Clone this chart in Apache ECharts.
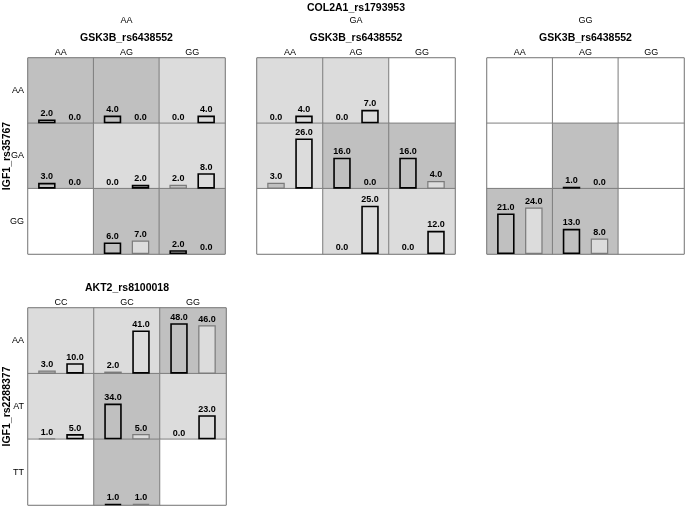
<!DOCTYPE html>
<html>
<head>
<meta charset="utf-8">
<script src="https://cdn.jsdelivr.net/npm/echarts@6/dist/echarts.min.js"></script>
<style>html,body{margin:0;padding:0;background:#fff}#c{width:685px;height:506px}</style>
</head>
<body>
<div id="c"></div>
<script>
// ---- genotype categories ----
const col2a1Genotypes = ['AA', 'GA', 'GG'];
const gsk3bGenotypes = ['AA', 'AG', 'GG'];
const igf1Rs35767Genotypes = ['AA', 'GA', 'GG'];
const akt2Genotypes = ['CC', 'GC', 'GG'];
const igf1Rs2288377Genotypes = ['AA', 'AT', 'TT'];

// ---- counts, row-major (row = IGF1 genotype, col = GSK3B / AKT2 genotype); null = empty cell ----
const casesCol2a1AA    = [2, 4, 0,   3, 0, 2,   null, 6, 2];
const controlsCol2a1AA = [0, 0, 4,   0, 2, 8,   null, 7, 0];
const riskCol2a1AA     = ['H','H','L', 'H','L','L', '','H','H'];

const casesCol2a1GA    = [0, 0, null,  3, 16, 16,  null, 0, 0];
const controlsCol2a1GA = [4, 7, null,  26, 0, 4,   null, 25, 12];
const riskCol2a1GA     = ['L','L','', 'L','H','H', '','L','L'];

const casesCol2a1GG    = [null, null, null,  null, 1, null,  21, 13, null];
const controlsCol2a1GG = [null, null, null,  null, 0, null,  24, 8, null];
const riskCol2a1GG     = ['','','', '','H','', 'H','H',''];

const casesAkt2    = [3, 2, 48,   1, 34, 0,   null, 1, null];
const controlsAkt2 = [10, 41, 46, 5, 5, 23,   null, 1, null];
const riskAkt2     = ['L','L','H', 'L','H','L', '','H',''];

// ---- panel definitions built from the arrays ----
const panelDefs = [
  {cases: casesCol2a1AA, controls: controlsCol2a1AA, risk: riskCol2a1AA, cols: gsk3bGenotypes, rows: igf1Rs35767Genotypes,
   xName: 'GSK3B_rs6438552', yName: 'IGF1_rs35767', rowLabels: true, group: 0, sub: col2a1Genotypes[0]},
  {cases: casesCol2a1GA, controls: controlsCol2a1GA, risk: riskCol2a1GA, cols: gsk3bGenotypes, rows: igf1Rs35767Genotypes,
   xName: 'GSK3B_rs6438552', yName: '', rowLabels: false, group: 0, sub: col2a1Genotypes[1]},
  {cases: casesCol2a1GG, controls: controlsCol2a1GG, risk: riskCol2a1GG, cols: gsk3bGenotypes, rows: igf1Rs35767Genotypes,
   xName: 'GSK3B_rs6438552', yName: '', rowLabels: false, group: 0, sub: col2a1Genotypes[2]},
  {cases: casesAkt2, controls: controlsAkt2, risk: riskAkt2, cols: akt2Genotypes, rows: igf1Rs2288377Genotypes,
   xName: 'AKT2_rs8100018', yName: 'IGF1_rs2288377', rowLabels: true, group: 1, sub: null}
];

// ---- layout (pixels) ----
const layout = [
  {left: 28,  top: 58,  width: 197, height: 196},
  {left: 257, top: 58,  width: 198, height: 196},
  {left: 487, top: 58,  width: 197, height: 196},
  {left: 28,  top: 308, width: 198, height: 197}
];

const groupMax = [0, 0];
panelDefs.forEach(p => {
  p.cases.concat(p.controls).forEach(v => { if (v != null) groupMax[p.group] = Math.max(groupMax[p.group], v); });
});
const yMaxes = groupMax.map(m => m * 1.3);

const riskCode = {'': 0, 'L': 1, 'H': 2};
const FONT = '"Liberation Sans", Arial, Helvetica, sans-serif';
const grids = [], xAxes = [], yAxes = [], series = [], titles = [];
const heatIdx = [];

panelDefs.forEach((p, pi) => {
  const L = layout[pi];
  const gi = grids.length;
  grids.push({left: L.left, top: L.top, width: L.width, height: L.height, show: true, outerBoundsMode: 'none',
    borderColor: '#6e6e6e', borderWidth: 1, backgroundColor: 'transparent'});
  xAxes.push({type: 'category', gridIndex: gi, data: p.cols, position: 'top',
    axisLine: {show: false}, axisTick: {show: false}, splitLine: {show: false},
    axisLabel: {fontSize: 9, color: '#000', margin: 0.5, fontFamily: FONT},
    name: p.xName, nameLocation: 'middle', nameGap: 14, nameMoveOverlap: false,
    nameTextStyle: {fontSize: 10.5, fontWeight: 'bold', color: '#000', fontFamily: FONT}});
  yAxes.push({type: 'category', gridIndex: gi, data: p.rows, inverse: true,
    axisLine: {show: false}, axisTick: {show: false}, splitLine: {show: false},
    axisLabel: {show: p.rowLabels, fontSize: 9, color: '#000', margin: 4, fontFamily: FONT},
    name: p.yName, nameLocation: 'middle', nameGap: 15, nameRotate: 90, nameMoveOverlap: false,
    nameTextStyle: {fontSize: 10.5, fontWeight: 'bold', color: '#000', fontFamily: FONT}});
  const hdata = [];
  for (let r = 0; r < 3; r++) for (let c = 0; c < 3; c++) hdata.push([c, r, riskCode[p.risk[r * 3 + c]]]);
  heatIdx.push(series.length);
  series.push({type: 'heatmap', xAxisIndex: gi, yAxisIndex: gi, data: hdata, z: 1,
    itemStyle: {borderColor: '#7f7f7f', borderWidth: 1}, emphasis: {disabled: true}, silent: true});

  for (let r = 0; r < 3; r++) {
    const bi = grids.length;
    grids.push({left: L.left, top: L.top + r * L.height / 3, width: L.width, height: L.height / 3, show: false,
      outerBoundsMode: 'none'});
    xAxes.push({type: 'category', gridIndex: bi, data: p.cols, show: false});
    yAxes.push({type: 'value', gridIndex: bi, min: 0, max: yMaxes[p.group], show: false, splitLine: {show: false}});
    const mk = (arr, isCase) => arr.slice(r * 3, r * 3 + 3).map((v, c) => {
      if (v == null) return '-';
      const risk = p.risk[r * 3 + c];
      const strong = (isCase && risk === 'H') || (!isCase && risk === 'L');
      return {value: v, itemStyle: {
        color: isCase ? '#c0c0c0' : '#dcdcdc',
        borderColor: strong ? '#000' : '#7a7a7a',
        borderWidth: v === 0 ? 0 : (strong ? 1.6 : 1.2)}};
    });
    const lbl = {show: true, position: 'top', distance: 1.5, fontSize: 9, fontWeight: 'bold', color: '#000',
      fontFamily: FONT, formatter: q => Number(q.value).toFixed(1)};
    series.push({type: 'bar', name: 'cases', xAxisIndex: bi, yAxisIndex: bi, data: mk(p.cases, true),
      barWidth: 17.5, barGap: '60%', z: 3, label: lbl, silent: true});
    series.push({type: 'bar', name: 'controls', xAxisIndex: bi, yAxisIndex: bi, data: mk(p.controls, false),
      barWidth: 17.5, barGap: '60%', z: 3, label: lbl, silent: true});
  }
  if (p.sub) {
    titles.push({text: p.sub, left: L.left + L.width / 2, top: 16.5, textAlign: 'center', padding: 0,
      textStyle: {fontSize: 9, fontWeight: 'normal', color: '#000', fontFamily: FONT}});
  }
});

titles.push({text: 'COL2A1_rs1793953', left: layout[1].left + layout[1].width / 2, top: 2.5, textAlign: 'center', padding: 0,
  textStyle: {fontSize: 10.5, fontWeight: 'bold', color: '#000', fontFamily: FONT}});

const chart = echarts.init(document.getElementById('c'), null, {renderer: 'canvas'});
chart.setOption({
  animation: false,
  backgroundColor: '#fff',
  textStyle: {fontFamily: FONT},
  title: titles,
  grid: grids, xAxis: xAxes, yAxis: yAxes,
  visualMap: {type: 'piecewise', show: false, dimension: 2, seriesIndex: heatIdx,
    pieces: [{value: 0, color: '#ffffff'}, {value: 1, color: '#dcdcdc'}, {value: 2, color: '#c0c0c0'}]},
  series: series
});
</script>
</body>
</html>
